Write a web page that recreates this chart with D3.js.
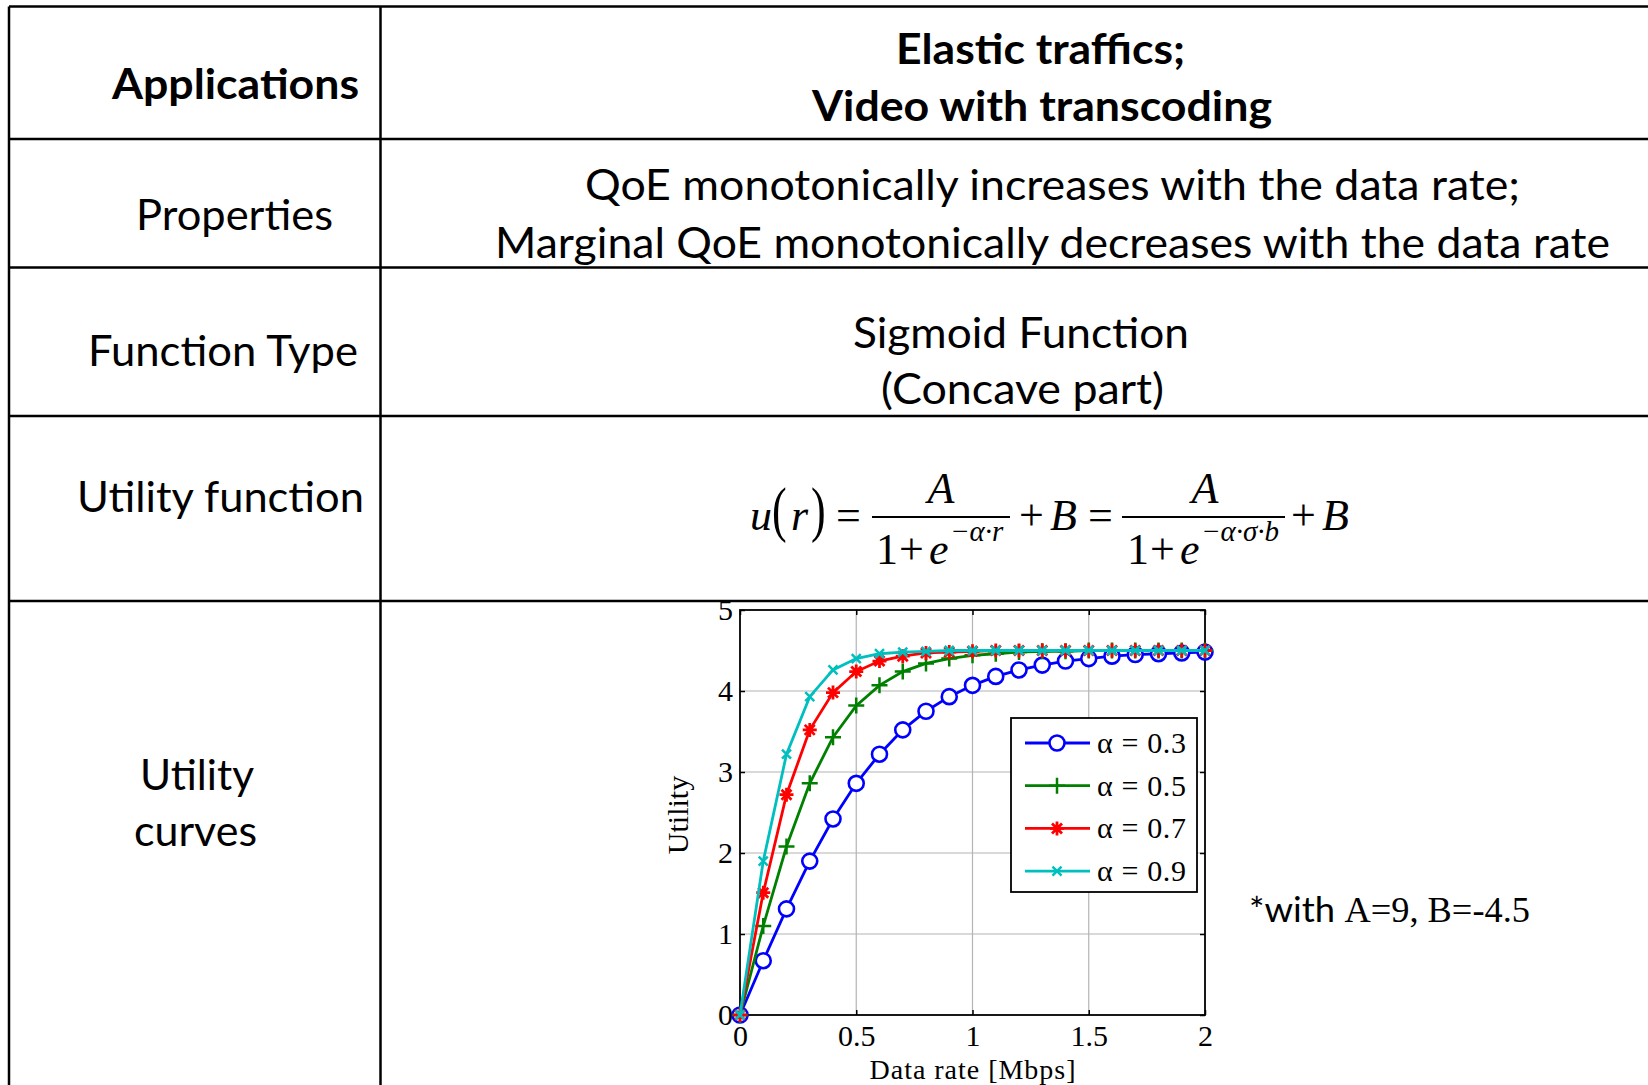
<!DOCTYPE html>
<html>
<head>
<meta charset="utf-8">
<script src="https://cdn.jsdelivr.net/npm/d3@7"></script>
<style>
  body { margin: 0; background: #fff; }
  svg { display: block; }
</style>
</head>
<body>
<div id="chart"></div>
<script>
// ---- table text ----
var rowLabels = [["Applications"], ["Properties"], ["Function Type"], ["Utility function"], ["Utility", "curves"]];
var rowTexts = [
  ["Elastic traffics;", "Video with transcoding"],
  ["QoE monotonically increases with the data rate;", "Marginal QoE monotonically decreases with the data rate"],
  ["Sigmoid Function", "(Concave part)"]
];
var noteParts = ["*with", "A=9, B=-4.5"];

// ---- curve data ----
var rates = [0, 0.1, 0.2, 0.3, 0.4, 0.5, 0.6, 0.7, 0.8, 0.9, 1.0, 1.1, 1.2, 1.3, 1.4, 1.5, 1.6, 1.7, 1.8, 1.9, 2.0];
var alphaLabels = ["0.3", "0.5", "0.7", "0.9"];
var util03 = [0, 0.67, 1.31, 1.90, 2.42, 2.86, 3.22, 3.52, 3.75, 3.93, 4.07, 4.18, 4.26, 4.32, 4.37, 4.40, 4.43, 4.45, 4.46, 4.47, 4.48];
var util05 = [0, 1.10, 2.08, 2.86, 3.43, 3.82, 4.07, 4.24, 4.34, 4.40, 4.44, 4.46, 4.48, 4.49, 4.49, 4.50, 4.50, 4.50, 4.50, 4.50, 4.50];
var util07 = [0, 1.51, 2.72, 3.52, 3.98, 4.24, 4.37, 4.43, 4.47, 4.48, 4.49, 4.50, 4.50, 4.50, 4.50, 4.50, 4.50, 4.50, 4.50, 4.50, 4.50];
var util09 = [0, 1.90, 3.22, 3.93, 4.26, 4.40, 4.46, 4.48, 4.49, 4.50, 4.50, 4.50, 4.50, 4.50, 4.50, 4.50, 4.50, 4.50, 4.50, 4.50, 4.50];
var xTicks = [0, 0.5, 1, 1.5, 2];
var yTicks = [0, 1, 2, 3, 4, 5];

var series = [
  { label: alphaLabels[0], values: util03, color: "#0000ff", marker: "circle" },
  { label: alphaLabels[1], values: util05, color: "#008000", marker: "plus" },
  { label: alphaLabels[2], values: util07, color: "#ff0000", marker: "star" },
  { label: alphaLabels[3], values: util09, color: "#00bfbf", marker: "x" }
];

var W = 1648, H = 1085;
var sans = "Lato, 'Open Sans', sans-serif";
var serif = "'Liberation Serif', 'Times New Roman', serif";

var svg = d3.select("#chart").append("svg")
  .attr("width", W)
  .attr("height", H);

svg.append("rect").attr("width", W).attr("height", H).attr("fill", "#fff");

// ---- table grid ----
var tableLeft = 9, tableTop = 6.5, colX = 380.5;
var rowLines = [139, 267.5, 416, 601];
var grid = svg.append("g").attr("stroke", "#000").attr("stroke-width", 2.5);
grid.append("line").attr("x1", tableLeft).attr("x2", W).attr("y1", tableTop).attr("y2", tableTop);
grid.append("line").attr("x1", tableLeft).attr("x2", tableLeft).attr("y1", tableTop).attr("y2", H);
grid.append("line").attr("x1", colX).attr("x2", colX).attr("y1", tableTop).attr("y2", H);
grid.selectAll(".row").data(rowLines).enter().append("line")
  .attr("x1", tableLeft).attr("x2", W)
  .attr("y1", function (d) { return d; })
  .attr("y2", function (d) { return d; });

// text placement: [x, baseline, width]
var labelPos = [[[112, 99, 247]], [[136, 230, 197]], [[88, 366, 270]], [[77, 512, 287]], [[140, 790, 114], [134, 846, 123]]];
var textPos = [[[896, 64, 289], [812, 121, 460]], [[585, 200, 935], [495, 257.5, 1115]], [[853, 348, 336], [881, 404, 283]]];

function putText(str, p, bold) {
  svg.append("text")
    .attr("x", p[0]).attr("y", p[1])
    .attr("textLength", p[2])
    .attr("lengthAdjust", "spacingAndGlyphs")
    .style("font-family", sans)
    .style("font-size", "42px")
    .style("font-weight", bold ? "bold" : "normal")
    .style("fill", "#000")
    .text(str);
}

rowLabels.forEach(function (lines, i) {
  lines.forEach(function (s, j) { putText(s, labelPos[i][j], i === 0); });
});
rowTexts.forEach(function (lines, i) {
  lines.forEach(function (s, j) { putText(s, textPos[i][j], i === 0); });
});

// ---- utility function formula ----
var formula = svg.append("g").style("font-family", serif).style("fill", "#000");
function fpiece(x, y, s, size, italic, anchor) {
  return formula.append("text")
    .attr("x", x).attr("y", y)
    .attr("text-anchor", anchor || "start")
    .style("font-size", size + "px")
    .style("font-style", italic ? "italic" : "normal")
    .text(s);
}
// tall thin parentheses: stretch vertically only
function paren(x, s) {
  formula.append("text")
    .attr("transform", "translate(" + x + ",530) scale(1,1.4)")
    .style("font-size", "44px")
    .text(s);
}
fpiece(750, 530, "u", 44, true);
paren(772, "(");
fpiece(791, 530, "r", 44, true);
paren(811, ")");
fpiece(836, 530, "=", 44, false);
formula.append("line").attr("x1", 872).attr("x2", 1010).attr("y1", 517).attr("y2", 517).attr("stroke", "#000").attr("stroke-width", 2);
fpiece(941, 503, "A", 44, true, "middle");
fpiece(876, 564, "1", 44, false);
fpiece(899, 564, "+", 44, false);
fpiece(929, 564, "e", 44, true);
fpiece(950, 541, "\u2212\u03b1\u00b7r", 29, true);
fpiece(1019, 530, "+", 44, false);
fpiece(1050, 530, "B", 44, true);
fpiece(1088, 530, "=", 44, false);
formula.append("line").attr("x1", 1122).attr("x2", 1285).attr("y1", 517).attr("y2", 517).attr("stroke", "#000").attr("stroke-width", 2);
fpiece(1205, 503, "A", 44, true, "middle");
fpiece(1127, 564, "1", 44, false);
fpiece(1150, 564, "+", 44, false);
fpiece(1180, 564, "e", 44, true);
fpiece(1201, 541, "\u2212\u03b1\u00b7\u03c3\u00b7b", 29, true);
fpiece(1291, 530, "+", 44, false);
fpiece(1322, 530, "B", 44, true);

// ---- utility curves plot ----
var x = d3.scaleLinear().domain([0, 2]).range([740, 1205]);
var y = d3.scaleLinear().domain([0, 5]).range([1015, 610]);

var plot = svg.append("g");

// grid lines
plot.append("g").selectAll("line").data(xTicks.slice(1, -1)).enter().append("line")
  .attr("x1", function (d) { return x(d); }).attr("x2", function (d) { return x(d); })
  .attr("y1", y(0)).attr("y2", y(5))
  .attr("stroke", "#b4b4b4").attr("stroke-width", 1.2);
plot.append("g").selectAll("line").data(yTicks.slice(1, -1)).enter().append("line")
  .attr("x1", x(0)).attr("x2", x(2))
  .attr("y1", function (d) { return y(d); }).attr("y2", function (d) { return y(d); })
  .attr("stroke", "#b4b4b4").attr("stroke-width", 1.2);

// axes (ticks point inward like matlab)
function styleAxis(g) {
  g.select(".domain").remove();
  g.selectAll(".tick line").attr("stroke", "#000").attr("stroke-width", 1.5);
  g.selectAll("text").style("font-family", serif).style("font-size", "30px").style("fill", "#000");
}
plot.append("g").attr("transform", "translate(0," + y(0) + ")")
  .call(d3.axisBottom(x).tickValues(xTicks).tickFormat(d3.format("")).tickSizeInner(-5).tickSizeOuter(0).tickPadding(10))
  .call(styleAxis);
plot.append("g").attr("transform", "translate(" + x(0) + ",0)")
  .call(d3.axisLeft(y).tickValues(yTicks).tickFormat(d3.format("")).tickSizeInner(-5).tickSizeOuter(0).tickPadding(7))
  .call(styleAxis);
plot.append("g").attr("transform", "translate(0," + y(5) + ")")
  .call(d3.axisTop(x).tickValues(xTicks).tickFormat("").tickSizeInner(-5).tickSizeOuter(0))
  .call(styleAxis);
plot.append("g").attr("transform", "translate(" + x(2) + ",0)")
  .call(d3.axisRight(y).tickValues(yTicks).tickFormat("").tickSizeInner(-5).tickSizeOuter(0))
  .call(styleAxis);

plot.append("rect")
  .attr("x", x(0)).attr("y", y(5))
  .attr("width", x(2) - x(0)).attr("height", y(0) - y(5))
  .attr("fill", "none").attr("stroke", "#000").attr("stroke-width", 1.8);

// markers
function markerPath(type) {
  if (type === "plus") return "M-8,0H8M0,-8V8";
  if (type === "x") return "M-4.5,-4.5L4.5,4.5M-4.5,4.5L4.5,-4.5";
  if (type === "star") return "M-7,0H7M0,-7V7M-5,-5L5,5M-5,5L5,-5";
  return null;
}
function drawMarker(g, type, color) {
  if (type === "circle") {
    g.append("circle").attr("r", 7.5).attr("fill", "#fff").attr("stroke", color).attr("stroke-width", 2.6);
  } else {
    g.append("path").attr("d", markerPath(type)).attr("fill", "none").attr("stroke", color)
      .attr("stroke-width", type === "star" ? 2.8 : 2.5);
  }
}

var line = d3.line()
  .x(function (d, i) { return x(rates[i]); })
  .y(function (d) { return y(d); });

series.forEach(function (s) {
  var g = plot.append("g");
  g.append("path").datum(s.values)
    .attr("d", line)
    .attr("fill", "none")
    .attr("stroke", s.color)
    .attr("stroke-width", 2.8);
  g.selectAll(".m").data(s.values).enter().append("g")
    .attr("transform", function (d, i) { return "translate(" + x(rates[i]) + "," + y(d) + ")"; })
    .each(function () { drawMarker(d3.select(this), s.marker, s.color); });
});

// axis labels
plot.append("text")
  .attr("x", (x(0) + x(2)) / 2).attr("y", 1079)
  .attr("text-anchor", "middle")
  .attr("textLength", 206)
  .style("font-family", serif).style("font-size", "28px")
  .text("Data rate [Mbps]");
plot.append("text")
  .attr("transform", "translate(688,815) rotate(-90)")
  .attr("text-anchor", "middle")
  .style("font-family", serif).style("font-size", "30px")
  .text("Utility");

// legend
var legend = plot.append("g");
legend.append("rect")
  .attr("x", 1011).attr("y", 718).attr("width", 186).attr("height", 174)
  .attr("fill", "#fff").attr("stroke", "#000").attr("stroke-width", 1.8);
series.forEach(function (s, i) {
  var ly = 743 + i * 42.7;
  var item = legend.append("g").attr("transform", "translate(0," + ly + ")");
  item.append("line").attr("x1", 1025).attr("x2", 1090).attr("y1", 0).attr("y2", 0)
    .attr("stroke", s.color).attr("stroke-width", 2.8);
  var mk = item.append("g").attr("transform", "translate(1057,0)");
  drawMarker(mk, s.marker, s.color);
  item.append("text")
    .attr("x", 1097).attr("y", 10)
    .attr("textLength", 89)
    .style("font-family", serif).style("font-size", "30px")
    .text("\u03b1 = " + s.label);
});

// note beside the plot
var note = svg.append("text").attr("x", 1249).attr("y", 922)
  .attr("textLength", 281).attr("lengthAdjust", "spacingAndGlyphs")
  .style("fill", "#000");
note.append("tspan").style("font-family", sans).style("font-size", "35px").text(noteParts[0] + " ");
note.append("tspan").style("font-family", serif).style("font-size", "35px").text(noteParts[1]);
</script>
</body>
</html>
